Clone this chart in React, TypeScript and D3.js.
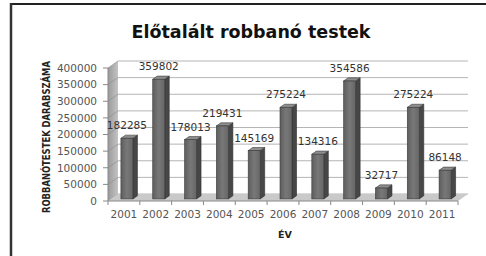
import { useEffect } from "react";
import * as d3 from "d3";

const years = ["2001", "2002", "2003", "2004", "2005", "2006", "2007", "2008", "2009", "2010", "2011"];
const values = [182285, 359802, 178013, 219431, 145169, 275224, 134316, 354586, 32717, 275224, 86148];
const yTicks = [0, 50000, 100000, 150000, 200000, 250000, 300000, 350000, 400000];

const TITLE = "Előtalált robbanó testek";
const Y_TITLE = "ROBBANÓTESTEK DARABSZÁMA";
const X_TITLE = "ÉV";

// depth offset of the 3D box
const DX = 10;
const DY = -7;
const font = "'DejaVu Sans', sans-serif";

export default function App() {
	useEffect(() => {
		document.body.style.margin = "0";
	}, []);

	const width = 486;
	const height = 256;

	const x = d3.scaleBand<string>().domain(years).range([108, 458]);
	const y = d3.scaleLinear().domain([0, 400000]).range([201, 68]);

	const x0 = x.range()[0];
	const x1 = x.range()[1];
	const yTop = y(400000);
	const yBase = y(0);

	const barW = 12;
	const zf = 0.3;
	const zd = 0.45;

	const poly = (pts: [number, number][]) => pts.map((p) => p.join(",")).join(" ");

	return (
		<svg width={width} height={height} style={{ position: "absolute", left: 0, top: 0, background: "#fff" }}>
			<defs>
				<linearGradient id="wall" x1="0" x2="1" y1="0" y2="0">
					<stop offset="0%" stopColor="#9a9a9a" />
					<stop offset="100%" stopColor="#c4c4c4" />
				</linearGradient>
				<linearGradient id="front" x1="0" x2="1" y1="0" y2="0">
					<stop offset="0%" stopColor="#5e5e5e" />
					<stop offset="50%" stopColor="#787878" />
					<stop offset="100%" stopColor="#666" />
				</linearGradient>
			</defs>

			{/* frame */}
			<line x1={10} x2={width} y1={4} y2={4} stroke="#222" strokeWidth={2} />
			<line x1={11} x2={11} y1={3} y2={height} stroke="#333" strokeWidth={2.5} />

			<text x={251} y={38} textAnchor="middle" fontFamily={font} fontWeight="bold" fontSize={17.5} fill="#111">
				{TITLE}
			</text>

			{/* back wall */}
			<rect x={x0 + DX} y={yTop + DY} width={x1 - x0} height={yBase - yTop} fill="#fff" />
			{yTicks.map((t) => (
				<line key={"g" + t} x1={x0 + DX} x2={x1 + DX} y1={y(t) + DY} y2={y(t) + DY} stroke="#b5b5b5" strokeWidth={1} />
			))}

			{/* side wall */}
			<polygon
				points={poly([
					[x0, yTop],
					[x0 + DX, yTop + DY],
					[x0 + DX, yBase + DY],
					[x0, yBase],
				])}
				fill="url(#wall)"
			/>
			{yTicks.map((t) => (
				<line key={"s" + t} x1={x0} x2={x0 + DX} y1={y(t)} y2={y(t) + DY} stroke="#8a8a8a" strokeWidth={0.6} />
			))}

			{/* floor */}
			<polygon
				points={poly([
					[x0, yBase],
					[x0 + DX, yBase + DY],
					[x1 + DX, yBase + DY],
					[x1, yBase],
				])}
				fill="#c9c9c9"
			/>

			{/* axes */}
			<line x1={x0} x2={x0} y1={yTop} y2={yBase} stroke="#888" strokeWidth={1} />
			<line x1={x0} x2={x1} y1={yBase} y2={yBase} stroke="#888" strokeWidth={1} />
			{yTicks.map((t) => (
				<line key={"t" + t} x1={x0 - 5} x2={x0} y1={y(t)} y2={y(t)} stroke="#888" strokeWidth={1} />
			))}
			{years.map((yr) => (
				<line key={"xt" + yr} x1={x(yr)!} x2={x(yr)!} y1={yBase} y2={yBase + 4} stroke="#888" strokeWidth={1} />
			))}
			<line x1={x1} x2={x1} y1={yBase} y2={yBase + 4} stroke="#888" strokeWidth={1} />

			{/* bars */}
			{years.map((yr, i) => {
				const v = values[i];
				const cx = x(yr)! + x.bandwidth() / 2 + zf * DX;
				const xl = cx - barW / 2;
				const xr = cx + barW / 2;
				const yt = y(v) + zf * DY;
				const yb = yBase + zf * DY;
				const ddx = zd * DX;
				const ddy = zd * DY;
				return (
					<g key={"b" + yr}>
						<polygon
							points={poly([
								[xr, yt],
								[xr + ddx, yt + ddy],
								[xr + ddx, yb + ddy],
								[xr, yb],
							])}
							fill="#474747"
							stroke="#2e2e2e"
							strokeWidth={0.6}
						/>
						<polygon
							points={poly([
								[xl, yt],
								[xr, yt],
								[xr + ddx, yt + ddy],
								[xl + ddx, yt + ddy],
							])}
							fill="#8e8e8e"
							stroke="#3a3a3a"
							strokeWidth={0.6}
						/>
						<rect x={xl} y={yt} width={barW} height={yb - yt} fill="url(#front)" stroke="#3a3a3a" strokeWidth={0.6} />
						<text x={cx} y={yt - 9} textAnchor="middle" fontFamily={font} fontSize={10.5} fill="#333">
							{v}
						</text>
					</g>
				);
			})}

			{/* tick labels */}
			{yTicks.map((t) => (
				<text key={"yl" + t} x={97} y={y(t) + 3.8} textAnchor="end" fontFamily={font} fontSize={10.5} fill="#555">
					{t}
				</text>
			))}
			{years.map((yr) => (
				<text
					key={"xl" + yr}
					x={x(yr)! + x.bandwidth() / 2}
					y={218}
					textAnchor="middle"
					fontFamily={font}
					fontSize={10.5}
					fill="#555"
				>
					{yr}
				</text>
			))}

			<text x={285} y={238} textAnchor="middle" fontFamily={font} fontWeight="bold" fontSize={9.5} fill="#222">
				{X_TITLE}
			</text>
			<text
				transform={`translate(50,137) rotate(-90)`}
				textAnchor="middle"
				fontFamily="'DejaVu Sans Condensed', 'DejaVu Sans', sans-serif"
				fontWeight="bold"
				fontSize={10}
				fill="#222"
				textLength={152}
				lengthAdjust="spacingAndGlyphs"
			>
				{Y_TITLE}
			</text>
		</svg>
	);
}
